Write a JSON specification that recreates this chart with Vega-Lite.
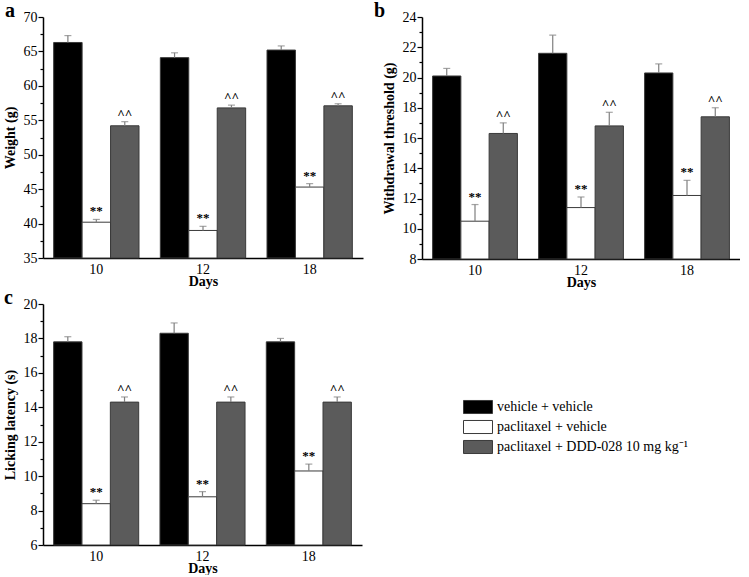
{
  "$schema": "https://vega.github.io/schema/vega-lite/v6.json",
  "background": "white",
  "padding": {"left": 3, "top": 1, "right": 0, "bottom": 0},
  "datasets": {
    "a": [
      {"day": "10", "group": "vehicle + vehicle", "mean": 66.3, "upper": 67.3, "sig": ""},
      {"day": "10", "group": "paclitaxel + vehicle", "mean": 40.2, "upper": 40.6, "sig": "**"},
      {"day": "10", "group": "paclitaxel + DDD-028 10 mg kg⁻¹", "mean": 54.2, "upper": 54.8, "sig": "^^"},
      {"day": "12", "group": "vehicle + vehicle", "mean": 64.1, "upper": 64.8, "sig": ""},
      {"day": "12", "group": "paclitaxel + vehicle", "mean": 39.0, "upper": 39.6, "sig": "**"},
      {"day": "12", "group": "paclitaxel + DDD-028 10 mg kg⁻¹", "mean": 56.8, "upper": 57.2, "sig": "^^"},
      {"day": "18", "group": "vehicle + vehicle", "mean": 65.2, "upper": 65.8, "sig": ""},
      {"day": "18", "group": "paclitaxel + vehicle", "mean": 45.3, "upper": 45.8, "sig": "**"},
      {"day": "18", "group": "paclitaxel + DDD-028 10 mg kg⁻¹", "mean": 57.1, "upper": 57.4, "sig": "^^"}
    ],
    "b": [
      {"day": "10", "group": "vehicle + vehicle", "mean": 20.1, "upper": 20.6, "sig": ""},
      {"day": "10", "group": "paclitaxel + vehicle", "mean": 10.5, "upper": 11.6, "sig": "**"},
      {"day": "10", "group": "paclitaxel + DDD-028 10 mg kg⁻¹", "mean": 16.3, "upper": 17.0, "sig": "^^"},
      {"day": "12", "group": "vehicle + vehicle", "mean": 21.6, "upper": 22.8, "sig": ""},
      {"day": "12", "group": "paclitaxel + vehicle", "mean": 11.4, "upper": 12.1, "sig": "**"},
      {"day": "12", "group": "paclitaxel + DDD-028 10 mg kg⁻¹", "mean": 16.8, "upper": 17.7, "sig": "^^"},
      {"day": "18", "group": "vehicle + vehicle", "mean": 20.3, "upper": 20.9, "sig": ""},
      {"day": "18", "group": "paclitaxel + vehicle", "mean": 12.2, "upper": 13.2, "sig": "**"},
      {"day": "18", "group": "paclitaxel + DDD-028 10 mg kg⁻¹", "mean": 17.4, "upper": 18.0, "sig": "^^"}
    ],
    "c": [
      {"day": "10", "group": "vehicle + vehicle", "mean": 17.8, "upper": 18.1, "sig": ""},
      {"day": "10", "group": "paclitaxel + vehicle", "mean": 8.4, "upper": 8.6, "sig": "**"},
      {"day": "10", "group": "paclitaxel + DDD-028 10 mg kg⁻¹", "mean": 14.3, "upper": 14.6, "sig": "^^"},
      {"day": "12", "group": "vehicle + vehicle", "mean": 18.3, "upper": 18.9, "sig": ""},
      {"day": "12", "group": "paclitaxel + vehicle", "mean": 8.8, "upper": 9.1, "sig": "**"},
      {"day": "12", "group": "paclitaxel + DDD-028 10 mg kg⁻¹", "mean": 14.3, "upper": 14.6, "sig": "^^"},
      {"day": "18", "group": "vehicle + vehicle", "mean": 17.8, "upper": 18.0, "sig": ""},
      {"day": "18", "group": "paclitaxel + vehicle", "mean": 10.3, "upper": 10.7, "sig": "**"},
      {"day": "18", "group": "paclitaxel + DDD-028 10 mg kg⁻¹", "mean": 14.3, "upper": 14.6, "sig": "^^"}
    ]
  },
  "columns": 2,
  "bounds": "flush",
  "spacing": {"row": 45, "column": 59},
  "resolve": {
    "scale": {"x": "independent", "y": "independent", "color": "independent", "xOffset": "independent"},
    "axis": {"x": "independent", "y": "independent"},
    "legend": {"color": "independent"}
  },
  "concat": [
    {
      "width": 320, "height": 241,
      "title": {"text": "a", "dx": -38},
      "data": {"name": "a"},
      "encoding": {
        "x": {"field": "day", "type": "nominal", "scale": {"paddingInner": 0.2, "paddingOuter": 0.1}, "axis": {"title": "Days"}},
        "xOffset": {"field": "group", "type": "nominal", "scale": {"domain": ["vehicle + vehicle", "paclitaxel + vehicle", "paclitaxel + DDD-028 10 mg kg⁻¹"]}}
      },
      "layer": [
        {
          "mark": {"type": "bar", "stroke": "#3a3a3a", "strokeWidth": 1},
          "encoding": {
            "y": {"field": "mean", "type": "quantitative", "stack": null, "scale": {"domain": [35, 70], "nice": false, "zero": false},
              "axis": {"title": "Weight (g)", "format": "d", "tickCount": 100, "labelOverlap": false, "values": [35, 37.5, 40, 42.5, 45, 47.5, 50, 52.5, 55, 57.5, 60, 62.5, 65, 67.5, 70],
                "labelExpr": "datum.value % 5 === 0 ? datum.label : ''",
                "tickSize": {"condition": {"test": "datum.value % 5 === 0", "value": 5}, "value": 3}}},
            "color": {"field": "group", "type": "nominal", "legend": null,
              "scale": {"domain": ["vehicle + vehicle", "paclitaxel + vehicle", "paclitaxel + DDD-028 10 mg kg⁻¹"], "range": ["#000000", "#ffffff", "#5b5b5b"]}}
          }
        },
        {"mark": {"type": "rule", "color": "#7f7f7f", "strokeWidth": 1.2}, "encoding": {"y": {"field": "mean", "type": "quantitative"}, "y2": {"field": "upper"}}},
        {"mark": {"type": "tick", "color": "#7f7f7f", "size": 7, "thickness": 1.2, "orient": "horizontal"}, "encoding": {"y": {"field": "upper", "type": "quantitative"}}},
        {"mark": {"type": "text", "baseline": "bottom", "dy": -1, "font": "Liberation Serif", "fontSize": 13, "fontWeight": "bold", "color": "#000"}, "encoding": {"y": {"field": "upper", "type": "quantitative"}, "text": {"field": "sig"}}}
      ]
    },
    {
      "width": 318, "height": 242,
      "title": {"text": "b", "dx": -48},
      "data": {"name": "b"},
      "encoding": {
        "x": {"field": "day", "type": "nominal", "scale": {"paddingInner": 0.2, "paddingOuter": 0.1}, "axis": {"title": "Days"}},
        "xOffset": {"field": "group", "type": "nominal", "scale": {"domain": ["vehicle + vehicle", "paclitaxel + vehicle", "paclitaxel + DDD-028 10 mg kg⁻¹"]}}
      },
      "layer": [
        {
          "mark": {"type": "bar", "stroke": "#3a3a3a", "strokeWidth": 1},
          "encoding": {
            "y": {"field": "mean", "type": "quantitative", "stack": null, "scale": {"domain": [8, 24], "nice": false, "zero": false},
              "axis": {"title": "Withdrawal threshold (g)", "format": "d", "tickCount": 100, "labelOverlap": false, "values": [8, 9, 10, 11, 12, 13, 14, 15, 16, 17, 18, 19, 20, 21, 22, 23, 24],
                "labelExpr": "datum.value % 2 === 0 ? datum.label : ''",
                "tickSize": {"condition": {"test": "datum.value % 2 === 0", "value": 5}, "value": 3}}},
            "color": {"field": "group", "type": "nominal", "legend": null,
              "scale": {"domain": ["vehicle + vehicle", "paclitaxel + vehicle", "paclitaxel + DDD-028 10 mg kg⁻¹"], "range": ["#000000", "#ffffff", "#5b5b5b"]}}
          }
        },
        {"mark": {"type": "rule", "color": "#7f7f7f", "strokeWidth": 1.2}, "encoding": {"y": {"field": "mean", "type": "quantitative"}, "y2": {"field": "upper"}}},
        {"mark": {"type": "tick", "color": "#7f7f7f", "size": 7, "thickness": 1.2, "orient": "horizontal"}, "encoding": {"y": {"field": "upper", "type": "quantitative"}}},
        {"mark": {"type": "text", "baseline": "bottom", "dy": -1, "font": "Liberation Serif", "fontSize": 13, "fontWeight": "bold", "color": "#000"}, "encoding": {"y": {"field": "upper", "type": "quantitative"}, "text": {"field": "sig"}}}
      ]
    },
    {
      "width": 319, "height": 241,
      "title": {"text": "c", "dx": -39},
      "data": {"name": "c"},
      "encoding": {
        "x": {"field": "day", "type": "nominal", "scale": {"paddingInner": 0.2, "paddingOuter": 0.1}, "axis": {"title": "Days"}},
        "xOffset": {"field": "group", "type": "nominal", "scale": {"domain": ["vehicle + vehicle", "paclitaxel + vehicle", "paclitaxel + DDD-028 10 mg kg⁻¹"]}}
      },
      "layer": [
        {
          "mark": {"type": "bar", "stroke": "#3a3a3a", "strokeWidth": 1},
          "encoding": {
            "y": {"field": "mean", "type": "quantitative", "stack": null, "scale": {"domain": [6, 20], "nice": false, "zero": false},
              "axis": {"title": "Licking latency (s)", "format": "d", "tickCount": 100, "labelOverlap": false, "values": [6, 7, 8, 9, 10, 11, 12, 13, 14, 15, 16, 17, 18, 19, 20],
                "labelExpr": "datum.value % 2 === 0 ? datum.label : ''",
                "tickSize": {"condition": {"test": "datum.value % 2 === 0", "value": 5}, "value": 3}}},
            "color": {"field": "group", "type": "nominal",
              "scale": {"domain": ["vehicle + vehicle", "paclitaxel + vehicle", "paclitaxel + DDD-028 10 mg kg⁻¹"], "range": ["#000000", "#ffffff", "#5b5b5b"]},
              "legend": {"title": null, "orient": "none", "legendX": 427, "legendY": 95}}
          }
        },
        {"mark": {"type": "rule", "color": "#7f7f7f", "strokeWidth": 1.2}, "encoding": {"y": {"field": "mean", "type": "quantitative"}, "y2": {"field": "upper"}}},
        {"mark": {"type": "tick", "color": "#7f7f7f", "size": 7, "thickness": 1.2, "orient": "horizontal"}, "encoding": {"y": {"field": "upper", "type": "quantitative"}}},
        {"mark": {"type": "text", "baseline": "bottom", "dy": -1, "font": "Liberation Serif", "fontSize": 13, "fontWeight": "bold", "color": "#000"}, "encoding": {"y": {"field": "upper", "type": "quantitative"}, "text": {"field": "sig"}}}
      ]
    }
  ],
  "config": {
    "view": {"stroke": null},
    "font": "Liberation Serif",
    "title": {"font": "Liberation Serif", "fontSize": 20, "fontWeight": "bold", "anchor": "start", "frame": "group", "offset": -11, "baseline": "alphabetic", "color": "#000"},
    "axis": {"labelFont": "Liberation Serif", "titleFont": "Liberation Serif", "labelFontSize": 14, "titleFontSize": 14, "titleFontWeight": "bold",
      "labelColor": "#000", "titleColor": "#000", "domainColor": "#000", "tickColor": "#000", "domainWidth": 1.5, "tickWidth": 1.2, "grid": false, "labelOverlap": false, "labelFlush": false},
    "axisY": {"labelPadding": 1, "titlePadding": 6},
    "axisX": {"labelAngle": 0, "ticks": false, "labelPadding": 4, "titlePadding": -2},
    "legend": {"labelFont": "Liberation Serif", "labelFontSize": 14, "labelColor": "#000", "symbolType": "M-2,-0.9H2V0.9H-2Z", "symbolSize": 210,
      "symbolStrokeColor": "#3a3a3a", "symbolStrokeWidth": 1, "labelOffset": 11, "rowPadding": 2, "labelLimit": 300}
  }
}
